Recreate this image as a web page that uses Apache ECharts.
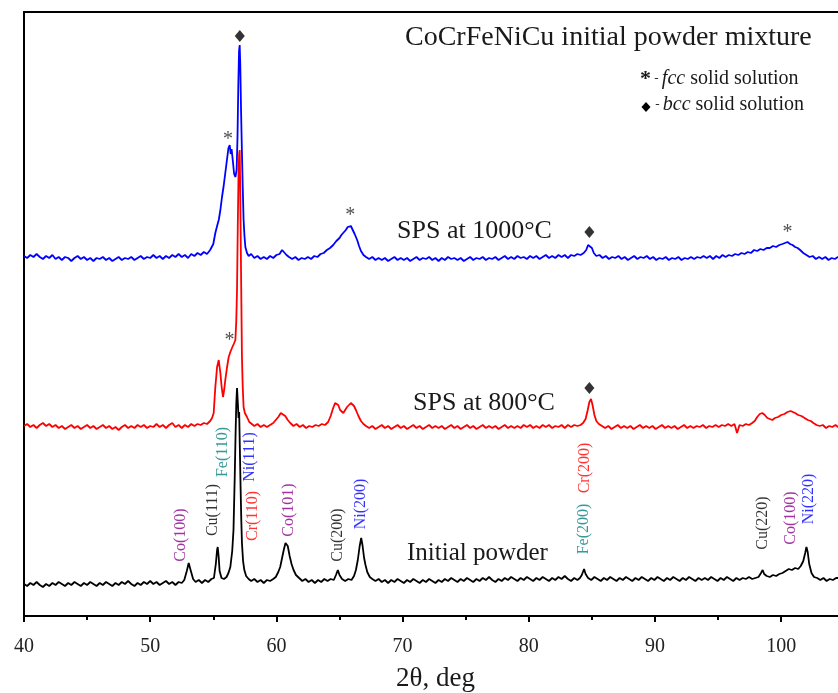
<!DOCTYPE html>
<html><head><meta charset="utf-8">
<script src="https://cdn.jsdelivr.net/npm/echarts@6/dist/echarts.min.js"></script>
<style>html,body{margin:0;padding:0;background:#fff}#c{width:838px;height:693px}</style>
</head><body><div id="c"></div>
<script>
// 2θ (deg) / intensity (a.u., offset patterns)
const scanSPS1000 = [[40,360],[40.25,358],[40.5,361],[40.75,359],[41,362],[41.25,359],[41.5,357],[41.75,360],[42,358],[42.25,361],[42.5,357],[42.75,359],[43,356],[43.25,359],[43.5,358],[43.75,355],[44,358],[44.25,360],[44.5,357],[44.75,359],[45,356],[45.25,358],[45.5,355],[45.75,358],[46,357],[46.25,359],[46.5,356],[46.75,358],[47,355],[47.25,357],[47.5,359],[47.75,356],[48,358],[48.25,357],[48.5,359],[48.75,356],[49,358],[49.25,360],[49.5,357],[49.75,359],[50,358],[50.25,361],[50.5,358],[50.75,360],[51,357],[51.25,360],[51.5,358],[51.75,361],[52,359],[52.25,362],[52.5,359],[52.75,361],[53,358],[53.25,362],[53.5,360],[53.75,363],[54,361],[54.25,364],[54.5,362],[54.75,366],[54.9,368],[55,372],[55.16,383],[55.3,390],[55.43,396],[55.55,405],[55.69,419],[55.82,430],[55.95,443],[56.08,456],[56.2,468],[56.3,471],[56.38,462],[56.45,467],[56.55,455],[56.65,442],[56.75,439],[56.85,446],[56.92,480],[56.98,530],[57.04,565],[57.09,571],[57.14,550],[57.2,505],[57.27,463],[57.33,430],[57.4,396],[57.47,380],[57.54,369],[57.67,363],[57.8,360],[58,362],[58.25,358],[58.5,360],[58.75,357],[59,359],[59.25,357],[59.5,360],[59.75,358],[60,361],[60.25,362],[60.45,366],[60.6,365],[60.8,361],[61,359],[61.25,357],[61.5,359],[61.75,356],[62,358],[62.25,357],[62.5,359],[62.75,357],[63,360],[63.25,359],[63.5,362],[63.75,363],[64,366],[64.25,368],[64.5,371],[64.75,375],[65,378],[65.15,381],[65.3,383],[65.5,386],[65.65,389],[65.8,391],[65.9,390],[66.05,386],[66.2,382],[66.4,376],[66.55,370],[66.7,365],[66.9,361],[67.1,359],[67.35,357],[67.6,359],[67.85,356],[68.1,358],[68.35,356],[68.6,358],[68.85,355],[69.1,357],[69.35,359],[69.6,356],[69.85,358],[70.1,356],[70.35,358],[70.6,355],[70.85,357],[71.1,359],[71.35,356],[71.6,358],[71.85,357],[72.1,359],[72.35,356],[72.6,358],[72.85,355],[73.1,358],[73.35,356],[73.6,359],[73.85,357],[74.1,358],[74.35,356],[74.6,358],[74.85,355],[75.1,357],[75.35,359],[75.6,356],[75.85,358],[76.1,357],[76.35,359],[76.6,356],[76.85,358],[77.1,357],[77.35,359],[77.6,356],[77.85,358],[78.1,360],[78.35,357],[78.6,359],[78.85,357],[79.1,360],[79.35,358],[79.6,359],[79.85,357],[80.1,360],[80.35,358],[80.6,360],[80.85,357],[81.1,359],[81.35,361],[81.6,358],[81.85,360],[82.1,358],[82.35,361],[82.6,359],[82.85,361],[83.1,358],[83.35,361],[83.6,360],[83.85,362],[84.1,361],[84.35,363],[84.55,366],[84.7,371],[84.85,373],[85,368],[85.15,363],[85.35,360],[85.6,361],[85.85,358],[86.1,360],[86.35,357],[86.6,359],[86.85,358],[87.1,360],[87.35,357],[87.6,359],[87.85,356],[88.1,358],[88.35,360],[88.6,357],[88.85,359],[89.1,358],[89.35,360],[89.6,357],[89.85,359],[90.1,356],[90.35,358],[90.6,357],[90.85,359],[91.1,356],[91.35,358],[91.6,357],[91.85,359],[92.1,356],[92.35,358],[92.6,357],[92.85,359],[93.1,357],[93.35,359],[93.6,358],[93.85,360],[94.1,358],[94.35,360],[94.6,357],[94.85,360],[95.1,358],[95.35,361],[95.6,359],[95.85,361],[96.1,360],[96.35,362],[96.6,361],[96.85,363],[97.1,362],[97.35,364],[97.6,363],[97.85,366],[98.1,365],[98.35,367],[98.6,366],[98.85,368],[99.1,368],[99.35,370],[99.6,369],[99.85,371],[100.1,372],[100.3,373],[100.5,374],[100.7,372],[100.9,371],[101.1,369],[101.3,368],[101.5,366],[101.75,363],[102,361],[102.25,359],[102.5,360],[102.75,357],[103,359],[103.25,357],[103.5,359],[103.75,356],[104,358],[104.25,357],[104.5,359],[104.75,357],[105,359]];

const scanSPS800 = [[40,190],[40.25,192],[40.5,189],[40.75,191],[41,188],[41.25,191],[41.5,193],[41.75,190],[42,192],[42.25,189],[42.5,191],[42.75,188],[43,190],[43.25,187],[43.5,189],[43.75,191],[44,188],[44.25,190],[44.5,187],[44.75,189],[45,191],[45.25,188],[45.5,190],[45.75,187],[46,189],[46.25,191],[46.5,188],[46.75,190],[47,187],[47.25,189],[47.5,186],[47.75,189],[48,191],[48.25,188],[48.5,190],[48.75,188],[49,191],[49.25,189],[49.5,191],[49.75,188],[50,190],[50.25,189],[50.5,192],[50.75,189],[51,191],[51.25,188],[51.5,191],[51.75,193],[52,189],[52.25,191],[52.5,188],[52.75,191],[53,189],[53.25,192],[53.5,190],[53.75,192],[54,191],[54.25,193],[54.5,192],[54.75,195],[54.9,198],[55.03,203],[55.16,229],[55.3,249],[55.43,256],[55.56,243],[55.67,228],[55.77,219],[55.87,227],[55.95,236],[56.08,248],[56.22,259],[56.35,264],[56.48,268],[56.62,272],[56.75,276],[56.82,295],[56.88,326],[56.94,390],[57,443],[57.05,462],[57.09,466],[57.14,420],[57.2,343],[57.27,259],[57.33,230],[57.4,209],[57.5,203],[57.67,199],[57.85,194],[58,192],[58.25,190],[58.5,192],[58.75,189],[59,191],[59.25,189],[59.5,191],[59.75,193],[59.95,196],[60.15,199],[60.35,203],[60.5,202],[60.7,200],[60.9,196],[61.1,193],[61.35,190],[61.6,192],[61.85,189],[62.1,191],[62.35,188],[62.6,190],[62.85,189],[63.1,191],[63.35,190],[63.6,192],[63.85,191],[64.1,194],[64.3,200],[64.5,208],[64.65,213],[64.75,215],[64.9,211],[65.05,206],[65.2,204],[65.3,203],[65.45,206],[65.6,209],[65.75,211],[65.9,213],[66,212],[66.15,210],[66.3,206],[66.5,200],[66.7,195],[66.9,192],[67.1,190],[67.35,188],[67.6,190],[67.85,187],[68.1,189],[68.35,191],[68.6,188],[68.85,190],[69.1,187],[69.35,189],[69.6,191],[69.85,188],[70.1,190],[70.35,187],[70.6,189],[70.85,191],[71.1,188],[71.35,190],[71.6,187],[71.85,189],[72.1,191],[72.35,188],[72.6,190],[72.85,188],[73.1,190],[73.35,187],[73.6,189],[73.85,191],[74.1,188],[74.35,190],[74.6,187],[74.85,189],[75.1,191],[75.35,188],[75.6,190],[75.85,187],[76.1,189],[76.35,191],[76.6,188],[76.85,190],[77.1,188],[77.35,190],[77.6,187],[77.85,189],[78.1,191],[78.35,188],[78.6,190],[78.85,188],[79.1,190],[79.35,188],[79.6,191],[79.85,189],[80.1,191],[80.35,188],[80.6,190],[80.85,188],[81.1,191],[81.35,189],[81.6,191],[81.85,188],[82.1,190],[82.35,189],[82.6,191],[82.85,188],[83.1,191],[83.35,189],[83.6,191],[83.85,190],[84.1,191],[84.3,193],[84.5,197],[84.65,205],[84.8,214],[84.93,217],[85.05,211],[85.2,201],[85.35,195],[85.55,192],[85.8,190],[86.05,188],[86.3,190],[86.55,187],[86.8,189],[87.05,191],[87.3,188],[87.55,190],[87.8,188],[88.05,190],[88.3,187],[88.55,189],[88.8,191],[89.05,188],[89.3,190],[89.55,188],[89.8,190],[90.05,187],[90.3,189],[90.55,191],[90.8,188],[91.05,190],[91.3,188],[91.55,190],[91.8,187],[92.05,189],[92.3,191],[92.55,188],[92.8,190],[93.05,188],[93.3,190],[93.55,189],[93.8,191],[94.05,188],[94.3,190],[94.55,189],[94.8,191],[95.05,189],[95.3,191],[95.55,190],[95.8,192],[96.05,190],[96.3,192],[96.5,183],[96.7,191],[96.95,190],[97.2,192],[97.45,191],[97.7,193],[97.9,195],[98.1,199],[98.3,202],[98.5,203],[98.7,201],[98.9,198],[99.1,197],[99.3,196],[99.5,198],[99.75,199],[100,201],[100.25,202],[100.5,204],[100.75,205],[100.9,205],[101.1,203],[101.35,201],[101.6,200],[101.85,198],[102.1,196],[102.35,195],[102.55,193],[102.8,191],[103.05,190],[103.3,191],[103.55,188],[103.8,190],[104.05,189],[104.3,191],[104.5,189],[104.75,191],[105,189]];

const scanInitial = [[40,32],[40.25,30],[40.5,33],[40.75,31],[41,34],[41.25,31],[41.5,29],[41.75,32],[42,30],[42.25,33],[42.5,31],[42.75,34],[43,32],[43.25,30],[43.5,33],[43.75,31],[44,34],[44.25,32],[44.5,30],[44.75,33],[45,31],[45.25,34],[45.5,32],[45.75,30],[46,33],[46.25,31],[46.5,34],[46.75,32],[47,30],[47.25,33],[47.5,31],[47.75,34],[48,32],[48.25,35],[48.5,32],[48.75,30],[49,33],[49.25,31],[49.5,34],[49.75,32],[50,35],[50.25,32],[50.5,34],[50.75,31],[51,33],[51.25,35],[51.5,32],[51.75,34],[52,31],[52.25,34],[52.5,33],[52.7,36],[52.9,45],[53.05,53],[53.2,46],[53.4,37],[53.6,34],[53.85,36],[54.1,33],[54.35,36],[54.6,34],[54.85,37],[55.05,38],[55.2,52],[55.3,66],[55.35,69],[55.42,60],[55.5,45],[55.65,38],[55.85,37],[56.05,39],[56.2,43],[56.35,49],[56.5,65],[56.6,86],[56.7,140],[56.76,179],[56.82,212],[56.88,228],[56.94,214],[57,198],[57.05,204],[57.1,170],[57.16,130],[57.22,95],[57.27,73],[57.36,55],[57.46,46],[57.6,40],[57.8,37],[58,35],[58.25,37],[58.5,34],[58.75,36],[59,33],[59.25,36],[59.5,35],[59.75,37],[59.95,39],[60.15,44],[60.3,49],[60.45,58],[60.6,67],[60.72,73],[60.8,74],[60.9,70],[61.05,60],[61.2,52],[61.36,46],[61.55,41],[61.8,38],[62.05,35],[62.3,37],[62.55,34],[62.8,36],[63.05,33],[63.3,36],[63.55,34],[63.8,37],[64.05,35],[64.3,37],[64.55,36],[64.72,41],[64.87,46],[65,41],[65.2,37],[65.45,35],[65.7,37],[65.95,36],[66.15,40],[66.3,46],[66.45,56],[66.6,70],[66.72,78],[66.82,71],[66.95,58],[67.06,51],[67.2,44],[67.4,39],[67.6,37],[67.85,35],[68.1,37],[68.35,34],[68.6,36],[68.85,33],[69.1,36],[69.35,34],[69.6,37],[69.85,35],[70.1,33],[70.35,36],[70.6,34],[70.85,37],[71.1,35],[71.35,33],[71.6,36],[71.85,34],[72.1,37],[72.35,35],[72.6,33],[72.85,36],[73.1,34],[73.35,37],[73.6,35],[73.85,38],[74.1,36],[74.35,34],[74.6,37],[74.85,35],[75.1,38],[75.35,36],[75.6,34],[75.85,37],[76.1,35],[76.35,38],[76.6,36],[76.85,39],[77.1,36],[77.35,34],[77.6,37],[77.85,35],[78.1,38],[78.35,36],[78.6,39],[78.85,37],[79.1,35],[79.35,38],[79.6,36],[79.85,39],[80.1,37],[80.35,35],[80.6,38],[80.85,36],[81.1,39],[81.35,37],[81.6,35],[81.85,38],[82.1,36],[82.35,39],[82.6,37],[82.85,40],[83.1,37],[83.35,35],[83.6,38],[83.85,36],[84.05,38],[84.2,41],[84.38,47],[84.5,42],[84.7,38],[84.95,36],[85.2,39],[85.45,37],[85.7,35],[85.95,38],[86.2,36],[86.45,39],[86.7,37],[86.95,35],[87.2,38],[87.45,36],[87.7,39],[87.95,37],[88.2,35],[88.45,38],[88.7,36],[88.95,39],[89.2,37],[89.45,35],[89.7,38],[89.95,36],[90.2,39],[90.45,37],[90.7,35],[90.95,38],[91.2,36],[91.45,39],[91.7,37],[91.95,35],[92.2,38],[92.45,36],[92.7,39],[92.95,37],[93.2,35],[93.45,38],[93.7,36],[93.95,38],[94.2,36],[94.45,39],[94.7,37],[94.95,35],[95.2,38],[95.45,36],[95.7,39],[95.95,37],[96.2,35],[96.45,38],[96.7,36],[96.95,38],[97.2,37],[97.45,39],[97.7,37],[97.95,38],[98.2,39],[98.4,43],[98.53,46],[98.65,42],[98.85,40],[99.1,39],[99.35,41],[99.6,40],[99.85,42],[100.1,43],[100.35,45],[100.6,47],[100.85,46],[101.1,48],[101.35,47],[101.55,50],[101.75,55],[101.9,63],[102,69],[102.1,64],[102.22,52],[102.4,43],[102.6,39],[102.85,38],[103.1,36],[103.35,38],[103.6,35],[103.85,37],[104.1,36],[104.35,38],[104.5,36],[104.75,38],[105,36]];

// phase markers: [2θ, intensity]
const bccMarks = [[57.1,580],[84.8,384],[84.8,228]];
const fccMarks = [[56.17,479],[65.85,403],[100.5,386],[56.29,278]];

// reflection labels: [2θ, intensity, text]
const reflections = [
  [52.39,81,'Co(100)'],[54.98,106,'Cu(111)'],[55.77,164,'Fe(110)'],[57.93,159,'Ni(111)'],
  [58.13,100,'Cr(110)'],[60.97,106,'Co(101)'],[64.85,81,'Cu(200)'],[66.70,112,'Ni(200)'],
  [84.32,87,'Fe(200)'],[84.46,148,'Cr(200)'],[98.58,93,'Cu(220)'],[100.74,98,'Co(100)'],[102.22,117,'Ni(220)']
];
const elementColor = {Co:'#8B008B', Cu:'#000000', Fe:'#008080', Ni:'#0000FF', Cr:'#FF0000'};

const SERIF = '"Liberation Serif","Times New Roman",serif';
const chart = echarts.init(document.getElementById('c'));
const txt = (t, x, y, size) => ({type:'text', x:x, y:y, silent:true,
  style:{text:t, font: size + 'px ' + SERIF, fill:'#1a1a1a', align:'left', verticalAlign:'middle', textAlign:'left', textVerticalAlign:'middle'}});

chart.setOption({
  animation:false,
  backgroundColor:'#ffffff',
  grid:{left:24, right:-69.4, top:12, bottom:77, containLabel:false, outerBoundsMode:'none'},
  xAxis:[{
    type:'value', min:40, max:110, interval:10,
    axisLine:{lineStyle:{color:'#000', width:2}},
    axisTick:{length:6, lineStyle:{color:'#000', width:2}},
    minorTick:{show:true, splitNumber:2, length:4, lineStyle:{color:'#000', width:2}},
    splitLine:{show:false}, minorSplitLine:{show:false},
    axisLabel:{fontFamily:SERIF, fontSize:20, color:'#222', margin:21}
  },{
    type:'value', position:'top', min:40, max:110,
    axisLine:{show:true, lineStyle:{color:'#000', width:2}},
    axisTick:{show:false}, axisLabel:{show:false}, splitLine:{show:false}
  }],
  yAxis:{type:'value', min:0, max:604,
    axisLine:{show:true, lineStyle:{color:'#000', width:2}},
    axisTick:{show:false}, axisLabel:{show:false}, splitLine:{show:false}},
  series:[
    {type:'line', data:scanSPS1000, symbol:'none', lineStyle:{color:'#0000FF', width:1.8}, z:2},
    {type:'line', data:scanSPS800, symbol:'none', lineStyle:{color:'#FF0000', width:1.8}, z:3},
    {type:'line', data:scanInitial, symbol:'none', lineStyle:{color:'#000000', width:1.8}, z:4},
    {type:'scatter', data:bccMarks, symbol:'diamond', symbolSize:[10,12], itemStyle:{color:'#000'}, z:6, silent:true},
    {type:'scatter', data:fccMarks, symbolSize:1, itemStyle:{color:'transparent'}, z:6, silent:true,
      label:{show:true, position:'inside', formatter:'*', fontFamily:SERIF, fontSize:20, color:'#222', offset:[0,3]}},
    {type:'scatter', symbolSize:1, itemStyle:{color:'transparent'}, z:6, silent:true,
      data:reflections.map(r => ({value:[r[0], r[1]], label:{formatter:r[2], color:elementColor[r[2].slice(0,2)]}})),
      label:{show:true, position:'inside', rotate:90, fontFamily:SERIF, fontSize:16}}
  ],
  graphic:[
    txt('CoCrFeNiCu initial powder mixture', 405, 38, 28),
    {type:'text', x:640, y:79, silent:true, style:{
      text:'{s|*}{d| - }{i|fcc}{n| solid solution}', align:'left', verticalAlign:'middle', textAlign:'left', textVerticalAlign:'middle',
      rich:{s:{fontFamily:SERIF, fontSize:22, fontWeight:'bold', fill:'#1a1a1a', color:'#1a1a1a'},
            d:{fontFamily:SERIF, fontSize:13, fill:'#1a1a1a', color:'#1a1a1a'},
            i:{fontFamily:SERIF, fontSize:20, fontStyle:'italic', fill:'#1a1a1a', color:'#1a1a1a'},
            n:{fontFamily:SERIF, fontSize:20, fill:'#1a1a1a', color:'#1a1a1a'}}}},
    {type:'polygon', silent:true, shape:{points:[[646,102],[650.5,107],[646,112],[641.5,107]]}, style:{fill:'#000'}},
    {type:'text', x:652, y:105, silent:true, style:{
      text:'{d| - }{i|bcc}{n| solid solution}', align:'left', verticalAlign:'middle', textAlign:'left', textVerticalAlign:'middle',
      rich:{d:{fontFamily:SERIF, fontSize:13, fill:'#1a1a1a', color:'#1a1a1a'},
            i:{fontFamily:SERIF, fontSize:20, fontStyle:'italic', fill:'#1a1a1a', color:'#1a1a1a'},
            n:{fontFamily:SERIF, fontSize:20, fill:'#1a1a1a', color:'#1a1a1a'}}}},
    txt('SPS at 1000°C', 397, 231, 26),
    txt('SPS at 800°C', 413, 403, 26),
    txt('Initial powder', 407, 553, 25),
    txt('2θ, deg', 396, 679, 27)
  ]
});
</script>
</body></html>
